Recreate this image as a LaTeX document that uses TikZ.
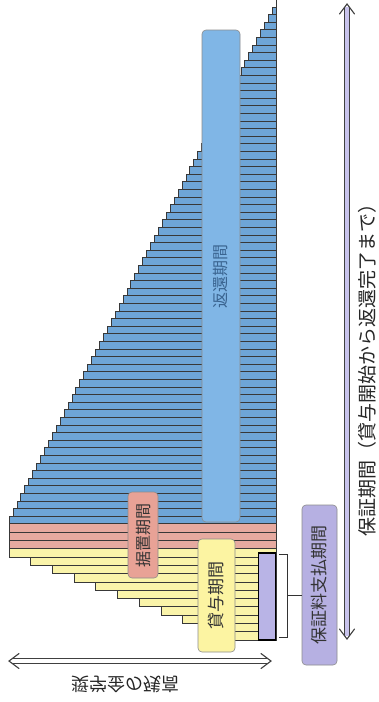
\documentclass[tikz,border=0pt]{standalone}
\usepackage{fontspec}
\newfontfamily\jp{Noto Sans CJK JP}
\usetikzlibrary{calc}
\definecolor{barblue}{HTML}{6EA5D7}
\definecolor{boxblue}{HTML}{80B6E6}
\definecolor{barpink}{HTML}{E6AAA0}
\definecolor{boxpink}{HTML}{E8A296}
\definecolor{baryellow}{HTML}{FAF4AA}
\definecolor{boxyellow}{HTML}{FCF4A2}
\definecolor{purplesmall}{HTML}{B9B4E6}
\definecolor{purplebox}{HTML}{B6B0E2}
\definecolor{arrowlav}{HTML}{C8C3EC}
\definecolor{bluetext}{HTML}{3A6490}
\begin{document}
\begin{tikzpicture}[x=1pt,y=-1pt,
  bar/.style={draw=black!78, line width=0.7pt},
  periodbox/.style={draw=black!45, line width=0.6pt, rounded corners=4pt, inner sep=0pt},
  periodtext/.style={rotate=90, inner sep=0pt, text=black!80, font=\jp\fontsize{17}{17}\selectfont},
  shaftline/.style={line width=0.9pt, draw=black!75},
  chevron/.style={line width=1.1pt, draw=black!75, line join=miter, line cap=round}
]
\useasboundingbox (0,0) rectangle (379,702);
\clip (0,0) rectangle (379,702);
\fill[white] (0,0) rectangle (379,702);

% blue bars (repayment period)
\foreach \k in {0,...,68}{
  \pgfmathsetmacro\yb{523.8-7.6*\k}
  \pgfmathsetmacro\yt{\yb-7.6}
  \pgfmathsetmacro\xl{9+3.93*\k}
  \draw[bar, fill=barblue] (\xl,\yt) rectangle (276,\yb);
}
% pink bars (deferment period)
\foreach \k in {0,1,2}{
  \pgfmathsetmacro\yt{523.8+8.3*\k}
  \pgfmathsetmacro\yb{\yt+8.3}
  \draw[bar, fill=barpink] (9,\yt) rectangle (276,\yb);
}
% yellow bars (loan period)
\foreach \k in {0,...,10}{
  \pgfmathsetmacro\yt{548.7+8.3*\k}
  \pgfmathsetmacro\yb{\yt+8.3}
  \pgfmathsetmacro\xl{9+21.7*\k}
  \draw[bar, fill=baryellow] (\xl,\yt) rectangle (276,\yb);
}

% boxes
\node[periodbox, fill=boxblue, minimum width=38pt, minimum height=492pt] (repay) at (221,276) {};
\node[periodtext, text=bluetext, font=\jp\fontsize{16}{16}\selectfont] (repayt) at (repay.center) {返還期間};

\node[periodbox, fill=boxpink, minimum width=30pt, minimum height=86pt] (defer) at (143,535) {};
\node[periodtext, font=\jp\fontsize{16}{16}\selectfont] (defert) at (defer.center) {据置期間};

\node[periodbox, fill=boxyellow, minimum width=37pt, minimum height=113pt] (loan) at (216.5,595.5) {};
\node[periodtext] (loant) at (loan.center) {貸与期間};

\node[draw=black, line width=1.6pt, fill=purplesmall, inner sep=0pt, minimum width=17pt, minimum height=87pt] (fee) at (267,596.5) {};

\node[periodbox, fill=purplebox, minimum width=35pt, minimum height=160pt] (feebox) at (319.5,585) {};
\node[periodtext] (feet) at (feebox.center) {保証料支払期間};

% bracket
\coordinate (brt) at (279,554);
\coordinate (brb) at (279,637);
\coordinate (brm) at (287,595.5);
\draw[line width=0.9pt, black!80] (brt) -- ++(8,0) |- (brb);
\draw[line width=0.9pt, black!80] (brm) -- (brm -| feebox.west);

% guarantee period arrow (vertical, hollow, double headed)
\coordinate (gtop) at (347,4);
\coordinate (gbot) at (347,639);
\fill[arrowlav] ($(gtop)+(-2.5,3)$) rectangle ($(gbot)+(2.5,-3)$);
\draw[shaftline] ($(gtop)+(-2.5,3)$) -- ($(gbot)+(-2.5,-3)$);
\draw[shaftline] ($(gtop)+(2.5,3)$) -- ($(gbot)+(2.5,-3)$);
\draw[chevron] ($(gtop)+(-7.5,10)$) -- (gtop) -- ($(gtop)+(7.5,10)$);
\draw[chevron] ($(gbot)+(-7.5,-10)$) -- (gbot) -- ($(gbot)+(7.5,-10)$);
\node[rotate=90, inner sep=0pt, text=black!85, font=\jp\fontsize{19}{19}\selectfont] (glabel) at (367,365) {保証期間（貸与開始から返還完了まで）};

% balance arrow (horizontal, hollow, double headed)
\coordinate (bl) at (9,661);
\coordinate (br) at (271,661);
\draw[shaftline] ($(bl)+(3,-2.5)$) -- ($(br)+(-3,-2.5)$);
\draw[shaftline] ($(bl)+(3,2.5)$) -- ($(br)+(-3,2.5)$);
\draw[chevron] ($(bl)+(10,-7.5)$) -- (bl) -- ($(bl)+(10,7.5)$);
\draw[chevron] ($(br)+(-10,-7.5)$) -- (br) -- ($(br)+(-10,7.5)$);
\node[inner sep=0pt, text=black!85, font=\jp\fontsize{18}{18}\selectfont] (blabel) at (125,684) {\scalebox{1}[-1]{奨学金の残高}};
\end{tikzpicture}
\end{document}
